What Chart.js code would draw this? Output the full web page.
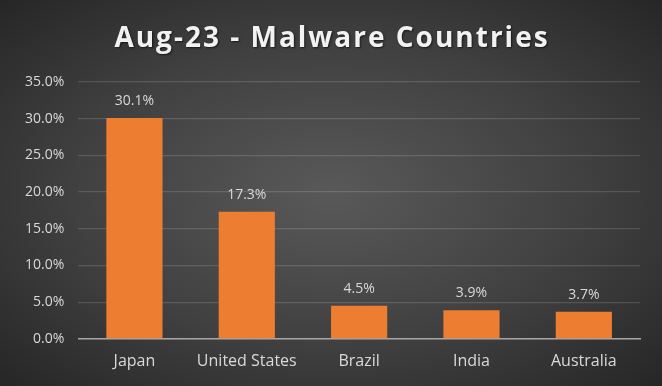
<!DOCTYPE html>
<html>
<head>
<meta charset="utf-8">
<script src="https://cdn.jsdelivr.net/npm/chart.js@4"></script>
<style>
  html, body { margin:0; padding:0; }
  body {
    width:662px; height:386px; overflow:hidden;
    background: radial-gradient(ellipse at 50% 50%, #595959 0%, #404040 55%, #262626 100%);
  }
  #wrap { position:relative; width:662px; height:386px; }
</style>
</head>
<body>
<div id="wrap"><canvas id="chart" width="662" height="386"></canvas></div>
<script>
// ------------------------
// DATA
// ------------------------
const chartTitle = "Aug-23 - Malware Countries";
const countries = ["Japan", "United States", "Brazil", "India", "Australia"];
const shares = [30.1, 17.3, 4.5, 3.9, 3.7];   // percent
const yTicks = [0, 5, 10, 15, 20, 25, 30, 35];

const FONT = "'Open Sans', 'Liberation Sans', sans-serif";
const TEXT = "#d9d9d9";
const BAR = "#ed7d31";
const CAT_SIZE = 16;   // category labels
const NUM_SIZE = 14;   // percent labels (calibri digits are narrow)

const pct = v => Number(v).toFixed(1) + "%";

// title with letter spacing (chart.js title can't do spacing)
const titlePlugin = {
  id: "spacedTitle",
  afterDraw(chart){
    const ctx = chart.ctx;
    ctx.save();
    ctx.font = "bold 28px " + FONT;
    ctx.letterSpacing = "2px";
    ctx.fillStyle = "#f2f2f2";
    ctx.textAlign = "center";
    ctx.textBaseline = "middle";
    ctx.shadowColor = "rgba(0,0,0,0.6)";
    ctx.shadowOffsetX = 1; ctx.shadowOffsetY = 1; ctx.shadowBlur = 2;
    ctx.fillText(chartTitle, chart.width / 2 + 1, 39);
    ctx.restore();
  }
};

// value labels over bars
const valueLabels = {
  id: "valueLabels",
  afterDatasetsDraw(chart){
    const ctx = chart.ctx;
    const meta = chart.getDatasetMeta(0);
    ctx.save();
    ctx.font = NUM_SIZE + "px " + FONT;
    ctx.fillStyle = TEXT;
    ctx.textAlign = "center";
    ctx.textBaseline = "bottom";
    meta.data.forEach((bar, i) => {
      ctx.fillText(pct(shares[i]), bar.x, bar.y - 10);
    });
    ctx.restore();
  }
};

new Chart(document.getElementById("chart"), {
  type: "bar",
  data: {
    labels: countries,
    datasets: [{
      data: shares,
      backgroundColor: BAR,
      borderWidth: 0,
      categoryPercentage: 1,
      barPercentage: 0.5
    }]
  },
  options: {
    responsive: false,
    animation: false,
    layout: { padding: { top: 82, left: 11, right: 22, bottom: 2 } },
    plugins: { legend: { display: false }, tooltip: { enabled: false } },
    scales: {
      x: {
        grid: { display: false, drawTicks: false },
        border: { color: "#a6a6a6", width: 1.5 },
        ticks: { color: TEXT, font: { family: FONT, size: CAT_SIZE }, padding: 13 }
      },
      y: {
        min: 0, max: 35,
        afterBuildTicks: axis => { axis.ticks = yTicks.map(v => ({ value: v })); },
        grid: { color: "rgba(255,255,255,0.14)", lineWidth: 1.2, drawTicks: false },
        border: { display: false },
        ticks: { color: TEXT, font: { family: FONT, size: NUM_SIZE }, padding: 14, callback: v => pct(v) }
      }
    }
  },
  plugins: [titlePlugin, valueLabels]
});
</script>
</body>
</html>
